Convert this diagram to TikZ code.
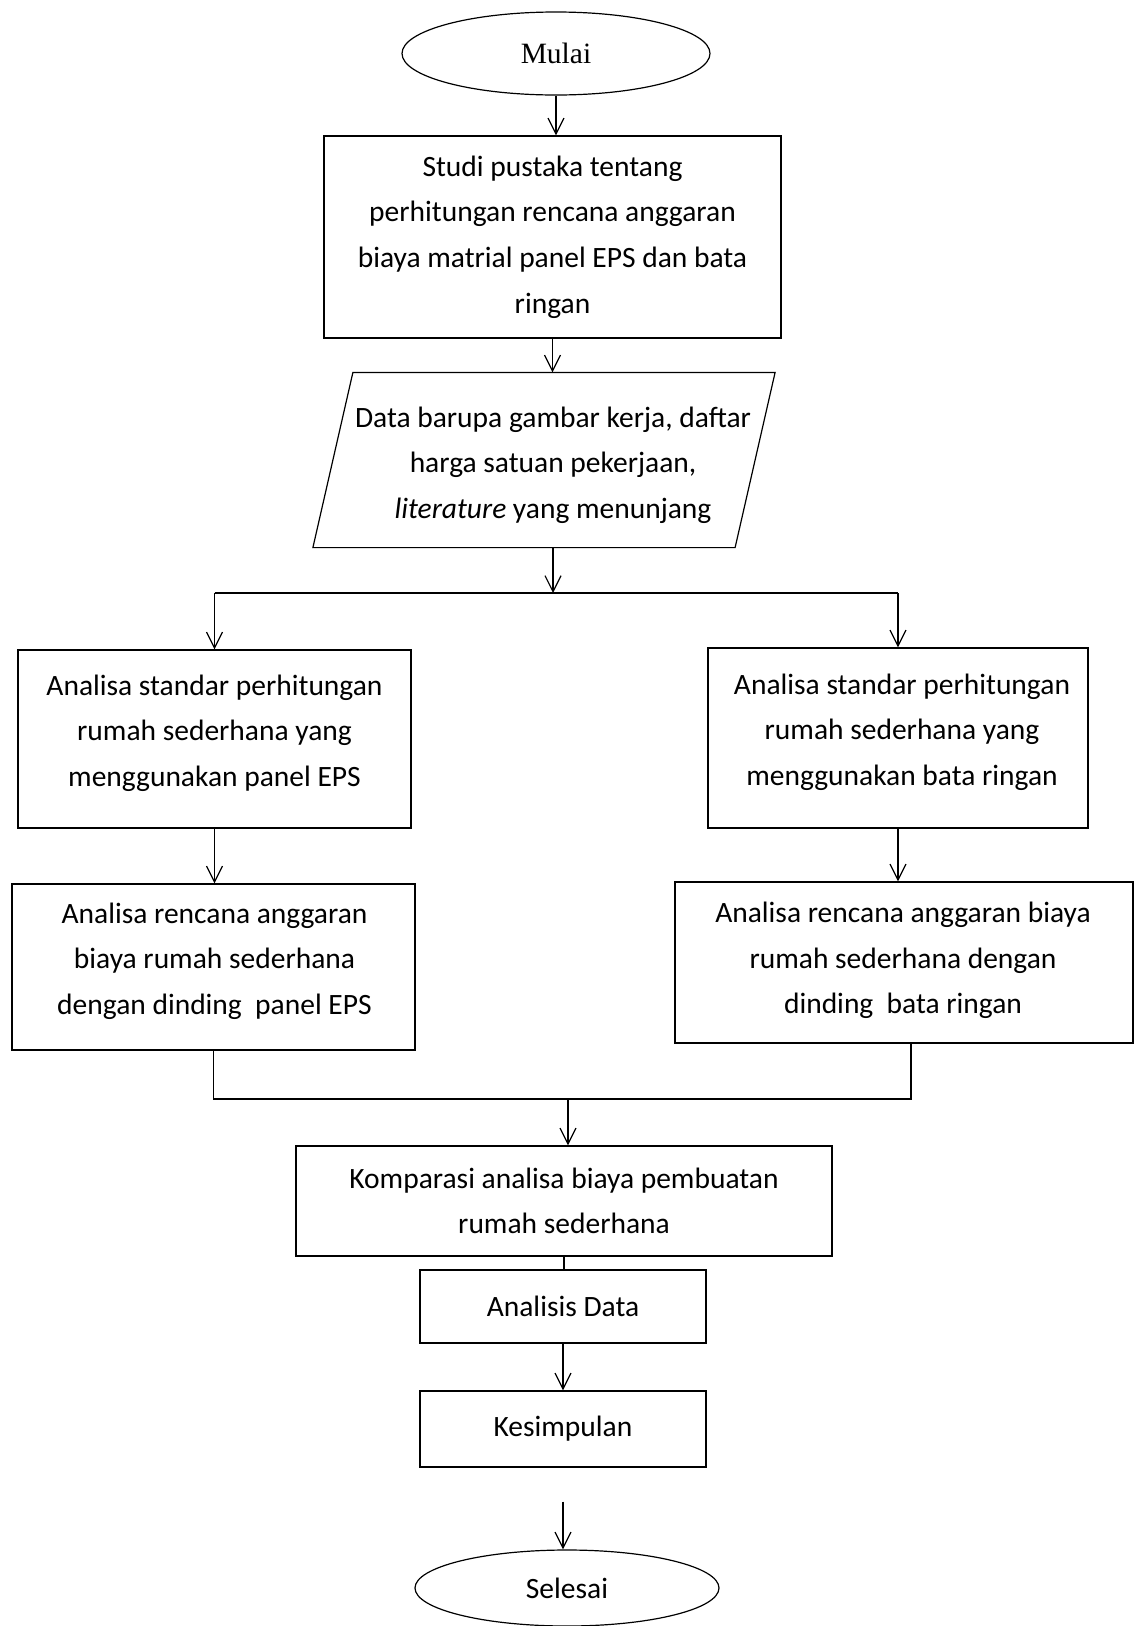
\documentclass[tikz,border=0pt]{standalone}
\usepackage{fontspec}
\setmainfont{Carlito}
\newfontfamily\timesfont{Liberation Serif}
\usetikzlibrary{shapes.geometric,arrows.meta}

\begin{document}
\begin{tikzpicture}[x=1pt,y=-1pt,line width=1.2pt,
		txt/.style={font=\fontsize{29.5}{45.6}\selectfont,align=center,inner sep=0pt},
		box/.style={txt,draw,rectangle},
		term/.style={txt,draw,ellipse},
		arr/.style={-{Straight Barb[length=16pt,width=16pt]}}]
			\useasboundingbox (0,0) rectangle (1141,1626);
			% shapes
			\node[term,minimum width=308,minimum height=83] (mulai) at (556,53.5) {\timesfont Mulai};
			\node[box,minimum width=457,minimum height=202] (studi) at (552.5,237) {Studi pustaka tentang\\perhitungan rencana anggaran\\biaya matrial panel EPS dan bata\\ringan};
			\node[txt,minimum width=421,minimum height=174] (data) at (544,460) {};
			\draw ([xshift=-20pt]data.south west) -- ([xshift=20pt]data.north west) -- ([xshift=20pt]data.north east) -- ([xshift=-20pt]data.south east) -- cycle;
			\node[box,minimum width=393,minimum height=178] (epsA) at (214.5,739) {};
			\node[box,minimum width=380,minimum height=180] (bataA) at (898,738) {};
			\node[box,minimum width=403,minimum height=166] (epsB) at (213.5,967) {};
			\node[box,minimum width=458,minimum height=161] (bataB) at (904,962.5) {};
			\node[box,minimum width=536,minimum height=110] (komparasi) at (564,1201) {Komparasi analisa biaya pembuatan\\rumah sederhana};
			\node[box,minimum width=286,minimum height=73] (analisis) at (563,1306.5) {Analisis Data};
			\node[box,minimum width=286,minimum height=76] (kesimpulan) at (563,1429) {Kesimpulan};
			\node[term,minimum width=304,minimum height=76] (selesai) at (567,1588) {Selesai};
			% texts
			\node[txt] (dataT) at (553,465) {Data barupa gambar kerja, daftar\\harga satuan pekerjaan,\\\textit{literature} yang menunjang};
			\node[txt] (epsAT) at (214.5,733) {Analisa standar perhitungan\\rumah sederhana yang\\menggunakan panel EPS};
			\node[txt] (bataAT) at (902,732) {Analisa standar perhitungan\\rumah sederhana yang\\menggunakan bata ringan};
			\node[txt] (epsBT) at (214.5,961) {Analisa rencana anggaran\\biaya rumah sederhana\\dengan dinding\ \ panel EPS};
			\node[txt] (bataBT) at (903,960.5) {Analisa rencana anggaran biaya\\rumah sederhana dengan\\dinding\ \ bata ringan};
			\coordinate (split) at (553,593);
			\coordinate (join) at (568,1099);
			\coordinate (gap) at ([yshift=-34pt]kesimpulan.south);
			% connectors
			\draw[arr] (mulai.south) -- (mulai.south |- studi.north);
			\draw[arr] (studi.south) -- (studi.south |- data.north);
			\draw[arr] (split |- data.south) -- (split);
			\draw (split -| epsA.north) -- (split -| bataA.north);
			\draw[arr] (split -| epsA.north) -- (epsA.north);
			\draw[arr] (split -| bataA.north) -- (bataA.north);
			\draw[arr] (epsA.south) -- (epsA.south |- epsB.north);
			\draw[arr] (bataA.south) -- (bataA.south |- bataB.north);
			\draw (epsB.south) |- (join) -| ([xshift=7pt]bataB.south);
			\draw[arr] (join) -- (join |- komparasi.north);
			\draw (komparasi.south) -- (komparasi.south |- analisis.north);
			\draw[arr] (analisis.south) -- (analisis.south |- kesimpulan.north);
			\draw[arr] (gap) -- (gap |- selesai.north);
		\end{tikzpicture}
\end{document}
